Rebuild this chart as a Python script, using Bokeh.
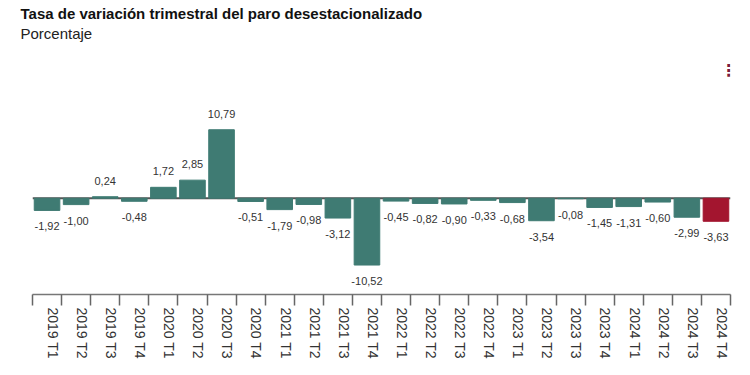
from bokeh.plotting import figure
from bokeh.models import Range1d, FixedTicker, Span, Title, Label, ColumnDataSource
from bokeh.core.properties import value
from bokeh.embed import file_html
from bokeh.resources import INLINE
import numpy as np

categories = ["2019 T1", "2019 T2", "2019 T3", "2019 T4",
              "2020 T1", "2020 T2", "2020 T3", "2020 T4",
              "2021 T1", "2021 T2", "2021 T3", "2021 T4",
              "2022 T1", "2022 T2", "2022 T3", "2022 T4",
              "2023 T1", "2023 T2", "2023 T3", "2023 T4",
              "2024 T1", "2024 T2", "2024 T3", "2024 T4"]
values = [-1.92, -1.00, 0.24, -0.48,
          1.72, 2.85, 10.79, -0.51,
          -1.79, -0.98, -3.12, -10.52,
          -0.45, -0.82, -0.90, -0.33,
          -0.68, -3.54, -0.08, -1.45,
          -1.31, -0.60, -2.99, -3.63]
highlight = "2024 T4"

TEAL = "#3f7b73"
RED = "#a3152f"
FONT = "Liberation Sans"

n = len(categories)
xs = np.arange(n) + 0.5
colors = [RED if c == highlight else TEAL for c in categories]
labels = [("%.2f" % v).replace(".", ",") for v in values]
offsets = [-16 if v >= 0 else 16 for v in values]

src = ColumnDataSource(dict(x=xs, top=values, color=colors, label=labels, off=offsets))

p = figure(width=742, height=361, output_backend="svg", toolbar_location=None,
           x_range=Range1d(0, n), y_range=Range1d(-15.16, 23.9),
           min_border_left=32, min_border_right=12, min_border_top=46, min_border_bottom=0)
p.title = None
p.outline_line_color = None
p.xgrid.visible = False
p.ygrid.visible = False
p.yaxis.visible = False

p.add_layout(Title(text="Porcentaje", text_font=FONT, text_font_size="15px",
                   text_font_style="normal", text_color="#222", offset=-12, standoff=10), "above")
p.add_layout(Title(text="Tasa de variación trimestral del paro desestacionalizado", text_font=FONT,
                   text_font_size="15px", text_font_style="bold", text_color="#111",
                   offset=-12, standoff=-9), "above")

p.add_layout(Span(location=0, dimension="width", line_color="#555555", line_width=2, level="underlay"))

p.vbar(x="x", top="top", bottom=0, width=0.88, fill_color="color", line_color="color", source=src)
p.text(x="x", y="top", text="label", y_offset="off", text_align="center", text_baseline="middle",
       text_font=value(FONT), text_font_size="11px", text_color="#333333", source=src)

ax = p.xaxis[0]
ax.ticker = FixedTicker(ticks=list(xs + 0.2), minor_ticks=list(range(n + 1)))
ax.major_label_overrides = {float(x + 0.2): c for x, c in zip(xs, categories)}
ax.major_label_orientation = "vertical"
ax.major_label_text_font = FONT
ax.major_label_text_font_size = "14px"
ax.major_label_text_color = "#333333"
ax.major_tick_line_color = None
ax.major_tick_out = 11
ax.major_tick_in = 0
ax.major_label_standoff = 2
ax.minor_tick_out = 11
ax.minor_tick_in = 0
ax.minor_tick_line_color = "#666666"
ax.minor_tick_line_width = 1.5
ax.axis_line_color = "#777777"
ax.axis_line_width = 1.5

p.add_layout(Label(x=696, y=224, x_units="screen", y_units="screen", text="⋮", text_font="DejaVu Sans",
                   text_font_size="16px", text_font_style="bold", text_color="#7a1d3c",
                   text_align="center", text_baseline="middle"))

open("out.html", "w").write(file_html(p, INLINE))
